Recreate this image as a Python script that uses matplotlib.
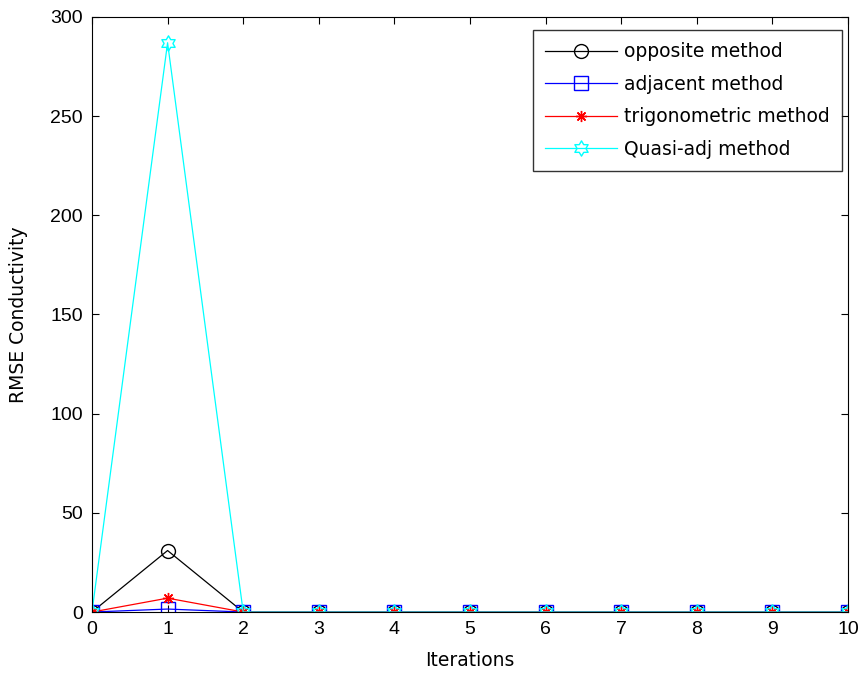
import matplotlib.pyplot as plt
from matplotlib.path import Path
import numpy as np

plt.rcParams['font.family'] = ['DejaVu Sans']

iterations = np.arange(0, 11)
opposite = [0, 31, 0, 0, 0, 0, 0, 0, 0, 0, 0]
adjacent = [0, 1.5, 0, 0, 0, 0, 0, 0, 0, 0, 0]
trig = [0, 7, 0, 0, 0, 0, 0, 0, 0, 0, 0]
quasi = [0, 287, 0, 0, 0, 0, 0, 0, 0, 0, 0]

# hexagram marker like matlab's 'h'
ang = np.pi / 2 + np.arange(12) * np.pi / 6
rad = np.where(np.arange(12) % 2 == 0, 1.0, 0.58)
hexagram = Path(np.column_stack([rad * np.cos(ang), rad * np.sin(ang)]).tolist() + [[0, 1]],
                closed=True)

fig = plt.figure(figsize=(8.62, 6.78), dpi=100)
ax = fig.add_axes([0.1067, 0.0973, 0.8771, 0.8777])

ax.plot(iterations, opposite, color='k', marker='o', mfc='none', ms=10, lw=0.9,
        label='opposite method')
ax.plot(iterations, adjacent, color='b', marker='s', mfc='none', ms=10, lw=0.9,
        label='adjacent method')
ax.plot(iterations, trig, color='r', marker=(8, 2, 0), ms=8, mew=1, lw=0.9,
        label='trigonometric method')
ax.plot(iterations, quasi, color='#00ffff', marker=hexagram, mfc='none', ms=11, mew=1, lw=0.9,
        label='Quasi-adj method')

ax.set_xlim(0, 10)
ax.set_ylim(0, 300)
ax.set_xticks(range(0, 11))
ax.set_yticks(range(0, 301, 50))
ax.tick_params(direction='in', top=True, right=True, labelsize=14, length=5, pad=6.5,
               labelfontfamily='Liberation Sans')
ax.set_xlabel('Iterations', fontsize=13.5, va='top')
ax.set_ylabel('RMSE Conductivity', fontsize=13.5)
ax.xaxis.set_label_coords(0.5, -0.0655)
ax.yaxis.set_label_coords(-0.085, 0.5)

leg = ax.legend(loc='upper right', bbox_to_anchor=(0.992, 0.978), fontsize=13.5,
                fancybox=False, edgecolor='black', handlelength=3.8, handletextpad=0.4,
                labelspacing=0.72, borderaxespad=0, borderpad=0.65)
leg.get_frame().set_linewidth(1)

fig.savefig('out.png', dpi=100)
